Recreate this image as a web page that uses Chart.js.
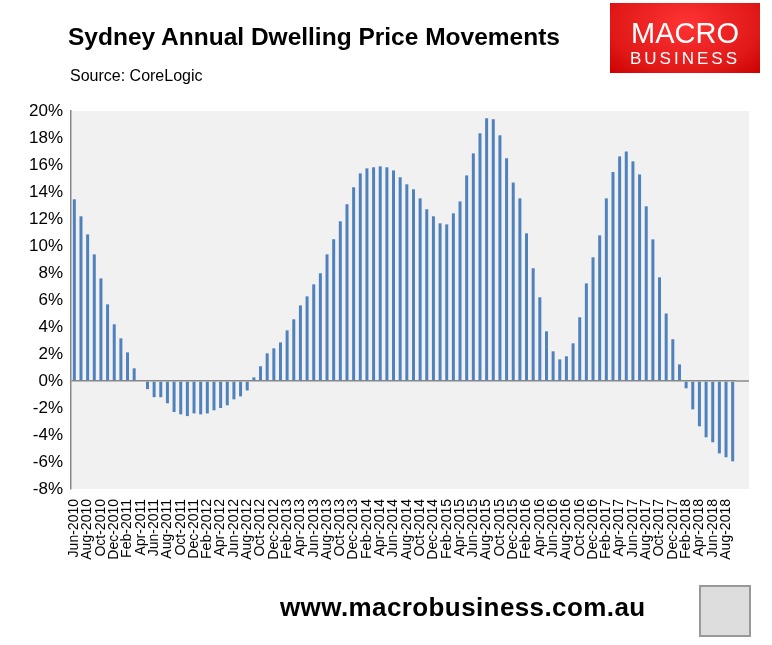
<!DOCTYPE html>
<html><head><meta charset="utf-8">
<script src="https://cdn.jsdelivr.net/npm/chart.js@4"></script>
<style>
body{margin:0;width:772px;height:645px;position:relative;background:#fff;font-family:"Liberation Sans",Arial,sans-serif;overflow:hidden}
#c{position:absolute;left:0;top:0}
.t{position:absolute;left:68px;top:23px;font:bold 24.5px "Liberation Sans",Arial,sans-serif;color:#000}
.s{position:absolute;left:70px;top:67px;font:16px "Liberation Sans",Arial,sans-serif}
.logo{position:absolute;left:610px;top:3px;width:150px;height:70px;background:radial-gradient(ellipse at 50% 30%,#f33,#e01818 70%,#c00);color:#fff;text-align:center}
.logo .a{font:29px "Liberation Sans",Arial;margin-top:15px;line-height:31px}
.logo .b{font:17px "Liberation Sans",Arial;letter-spacing:3px;line-height:20px}
.f{position:absolute;left:280px;top:592px;font:bold 26px "Liberation Sans",Arial,sans-serif;letter-spacing:0.4px}
.fox{position:absolute;left:699px;top:585px;width:48px;height:48px;border:2px solid #999;background:#ddd}
</style></head><body>
<canvas id="c" width="772" height="645"></canvas>
<div class="t">Sydney Annual Dwelling Price Movements</div>
<div class="s">Source: CoreLogic</div>
<div class="logo"><div class="a">MACRO</div><div class="b">BUSINESS</div></div>
<div class="f">www.macrobusiness.com.au</div>
<div class="fox"></div>
<script>
const months=["Jan","Feb","Mar","Apr","May","Jun","Jul","Aug","Sep","Oct","Nov","Dec"];
const categories=[];
for(let y=2010,m=5;categories.length<100;){categories.push(months[m]+"-"+y);m++;if(m>11){m=0;y++;}}
const values=[13.46,12.2,10.86,9.38,7.6,5.68,4.2,3.16,2.12,0.94,0.05,-0.6,-1.2,-1.2,-1.65,-2.3,-2.47,-2.6,-2.4,-2.47,-2.4,-2.17,-2.0,-1.8,-1.36,-1.14,-0.7,0.27,1.09,2.05,2.42,2.86,3.75,4.57,5.6,6.27,7.16,7.98,9.38,10.5,11.83,13.09,14.35,15.38,15.75,15.83,15.9,15.83,15.6,15.09,14.57,14.2,13.53,12.72,12.2,11.68,11.6,12.42,13.3,15.23,16.86,18.35,19.46,19.38,18.2,16.5,14.7,13.53,10.94,8.35,6.2,3.68,2.2,1.6,1.83,2.79,4.72,7.23,9.16,10.79,13.53,15.48,16.64,17.0,16.27,15.3,12.94,10.49,7.68,5.0,3.09,1.23,-0.54,-2.1,-3.36,-4.17,-4.54,-5.36,-5.65,-5.95];
const EXTRA=13;
const bg={id:'bg',beforeDraw(c){const a=c.chartArea,x=c.ctx;x.save();x.fillStyle='#f1f1f1';x.fillRect(a.left,a.top,a.right-a.left+EXTRA,a.bottom-a.top);x.restore();},
afterDraw(c){const a=c.chartArea,x=c.ctx,y0=c.scales.y.getPixelForValue(0);x.save();x.strokeStyle='#888';x.lineWidth=1.5;x.beginPath();x.moveTo(a.right,y0);x.lineTo(a.right+EXTRA,y0);x.stroke();x.restore();}};
new Chart(document.getElementById('c'),{type:'bar',
data:{labels:categories,datasets:[{data:values,backgroundColor:'#4f81bd',barPercentage:0.45,categoryPercentage:1}]},
options:{responsive:false,animation:false,devicePixelRatio:1,
layout:{padding:{top:111,right:36,left:0,bottom:0}},
plugins:{legend:{display:false},tooltip:{enabled:false}},
scales:{
x:{afterFit(s){s.height=156},grid:{display:false},border:{display:false},
ticks:{autoSkip:false,maxRotation:90,minRotation:90,padding:2,color:'#000',font:{family:'Liberation Sans Narrow, Liberation Sans',size:14},
callback(v,i){return i%2===0?categories[i]:''}}},
y:{min:-8,max:20,afterFit(s){s.width=71},border:{color:'#888',width:1.5},
grid:{drawTicks:false,color:c=>c.tick.value===0?'#888':'rgba(0,0,0,0)',lineWidth:1.5},
ticks:{stepSize:2,padding:8,color:'#000',font:{family:'Liberation Sans',size:17},callback:v=>v+'%'}}}},
plugins:[bg]});
</script></body></html>
